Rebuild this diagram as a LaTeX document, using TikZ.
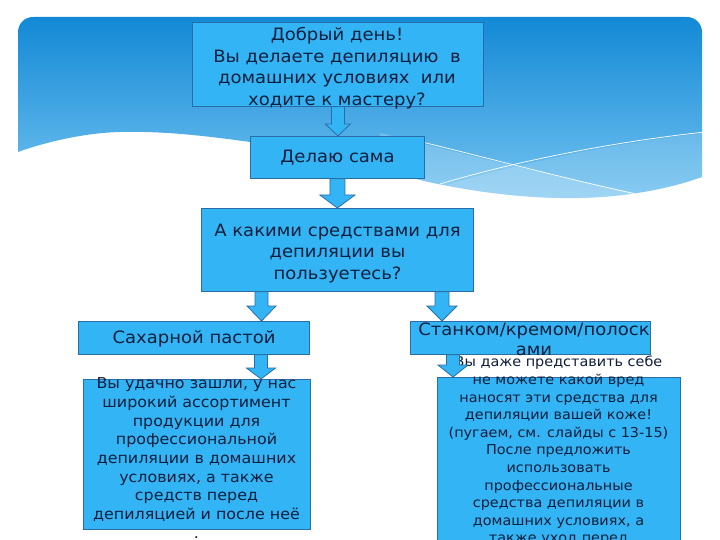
\documentclass[tikz,border=0pt]{standalone}
\usepackage{fontspec}
\setmainfont{DejaVu Sans}[FakeStretch=1.06]
\usetikzlibrary{calc}
\definecolor{boxfill}{HTML}{33B5F5}
\definecolor{boxline}{HTML}{2A6DA6}
\definecolor{txt}{HTML}{0F1E3C}
\definecolor{hdtop}{HTML}{1389D6}
\definecolor{hdbot}{HTML}{74C3F0}
\newcommand\barrow[5]{%
  \draw[barr] let \p1=(#1), \p2=(#2) in
    (\x1-#3pt,\y1) -- (\x1-#3pt,\y2+#5pt) -- (\x1-#4pt,\y2+#5pt) -- (\x1,\y2)
    -- (\x1+#4pt,\y2+#5pt) -- (\x1+#3pt,\y2+#5pt) -- (\x1+#3pt,\y1) -- cycle;}
\def\wavepath{(0,0) -- (702,0) -- (702,177) .. controls (660,192) and (610,199) .. (560,198)
  .. controls (510,197) and (465,190) .. (424,181)
  .. controls (370,167) and (310,150) .. (250,142)
  .. controls (200,135) and (160,131) .. (120,132)
  .. controls (80,133) and (40,144) .. (18,152) -- (0,160) -- cycle}
\begin{document}
\begin{tikzpicture}[x=1pt,y=-1pt,
  box/.style={draw=boxline, line width=0.8pt, fill=boxfill, inner sep=0pt, anchor=north west},
  barr/.style={draw=boxline, line width=0.8pt, fill=boxfill},
  lbl/.style={text=txt, align=center, inner sep=0pt},
  big/.style={font=\fontsize{17}{21.5}\selectfont},
  mid/.style={font=\fontsize{15}{18.7}\selectfont},
  sml/.style={font=\fontsize{13.6}{17.6}\selectfont}]
\useasboundingbox (0,0) rectangle (720,540);
\fill[white] (0,0) rectangle (720,540);
% header
\begin{scope}
  \clip[rounded corners=15pt] (18,17) rectangle (702,300);
  \clip \wavepath;
  \shade[top color=hdtop, bottom color=hdbot] (0,17) rectangle (720,200);
  \fill[white, opacity=.2] (380,133) .. controls (480,158) and (560,178) .. (660,198) -- (720,205) -- (720,260) -- (380,260) -- cycle;
  \fill[white, opacity=.15] (430,190) .. controls (520,162) and (620,142) .. (720,131) -- (720,260) -- (430,260) -- cycle;
  \draw[white, line width=.7pt] (418,141) .. controls (500,161) and (570,180) .. (650,197);
  \draw[white, line width=.7pt] (440,184) .. controls (520,160) and (620,141) .. (705,132);
\end{scope}
% boxes
\node[box, minimum width=291pt, minimum height=84pt] (b1) at (192,22) {};
\node[box, minimum width=174pt, minimum height=42pt] (b2) at (250,136) {};
\node[box, minimum width=272pt, minimum height=83pt] (b3) at (201,208) {};
\node[box, minimum width=231pt, minimum height=33pt] (b4) at (78,321) {};
\node[box, minimum width=240pt, minimum height=33pt] (b5) at (410,321) {};
\node[box, minimum width=227pt, minimum height=150pt] (b6) at (83,379) {};
\node[box, minimum width=243pt, minimum height=180pt] (b7) at (437,377) {};
% arrows
\barrow{b1.south}{b2.north}{6.5}{12.5}{12}
\barrow{b2.south}{b3.north}{7.5}{17.5}{13}
\barrow{$(b3.south west)+(60.5,0)$}{b4.north}{6.5}{14.5}{15}
\barrow{$(b3.south west)+(241,0)$}{b5.north}{7}{15}{15}
\barrow{$(b4.south west)+(183,0)$}{b6.north}{6.5}{14.5}{11}
% texts
\node[lbl, big] (t1) at (337,68) {Добрый день!\\ Вы делаете депиляцию~~в\\ домашних условиях~~или\\ ходите к мастеру?};
\node[lbl, big] (t2) at (337.5,158) {Делаю сама};
\node[lbl, big] (t3) at (337.5,253.5) {А какими средствами для\\ депиляции вы\\ пользуетесь?};
\node[lbl, big] (t4) at (194,339) {Сахарной пастой};
\node[lbl, big, font=\fontsize{17}{19.5}\selectfont] (t5) at (534,339.5) {Станком/кремом/полоск\\ ами};
\node[lbl, mid] (t6) at (196.5,458) {Вы удачно зашли, у нас\\ широкий ассортимент\\ продукции для\\ профессиональной\\ депиляции в домашних\\ условиях, а также\\ средств перед\\ депиляцией и после неё\\ .};
\node[lbl, sml] (t7) at (558.5,451) {Вы даже представить себе\\ не можете какой вред\\ наносят эти средства для\\ депиляции вашей коже!\\ (пугаем, см. слайды с 13-15)\\ После предложить\\ использовать\\ профессиональные\\ средства депиляции в\\ домашних условиях, а\\ также уход перед};
\barrow{$(b5.south west)+(43,0)$}{b7.north}{6.5}{15}{12}
\end{tikzpicture}
\end{document}
